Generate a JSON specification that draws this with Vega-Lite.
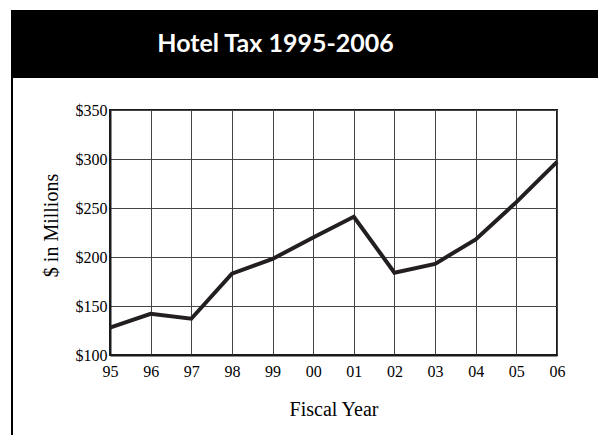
{
  "$schema": "https://vega.github.io/schema/vega-lite/v6.json",
  "padding": {"left": 11, "top": 10, "right": 0, "bottom": 0},
  "background": "white",
  "datasets": {
    "heading": [{"title": "Hotel Tax 1995-2006"}],
    "tax": [
      {"year": "95", "value": 128},
      {"year": "96", "value": 142},
      {"year": "97", "value": 137},
      {"year": "98", "value": 183},
      {"year": "99", "value": 198},
      {"year": "00", "value": 220},
      {"year": "01", "value": 241},
      {"year": "02", "value": 184},
      {"year": "03", "value": 193},
      {"year": "04", "value": 218},
      {"year": "05", "value": 256},
      {"year": "06", "value": 297}
    ]
  },
  "spacing": 0,
  "hconcat": [
    {
      "data": {"name": "heading"},
      "width": 2,
      "height": 425,
      "view": {"fill": "black", "stroke": null},
      "mark": {"type": "rect", "color": "black"},
      "encoding": {}
    },
    {
      "spacing": 23,
      "vconcat": [
        {
          "data": {"name": "heading"},
          "width": 585,
          "height": 68,
          "view": {"fill": "black", "stroke": null},
          "mark": {"type": "text", "color": "white", "font": "Lato", "fontWeight": "bold", "fontSize": 25, "dx": -30, "align": "center", "baseline": "middle"},
          "encoding": {"text": {"field": "title", "type": "nominal"}}
        },
        {
          "spacing": 0,
          "hconcat": [
            {
              "data": {"name": "heading"},
              "width": 27,
              "height": 1,
              "view": {"fill": "white", "stroke": null},
              "mark": {"type": "rect", "opacity": 0},
              "encoding": {}
            },
            {
              "data": {"name": "tax"},
              "width": 447,
              "height": 245,
              "view": {"stroke": "#1a1a1a", "strokeWidth": 2},
              "mark": {"type": "line", "color": "#231f20", "strokeWidth": 4, "strokeJoin": "miter"},
              "encoding": {
                "x": {
                  "field": "year", "type": "ordinal", "sort": null,
                  "scale": {"type": "point", "padding": 0},
                  "axis": {
                    "title": "Fiscal Year", "labelAngle": 0, "ticks": false, "grid": true,
                    "gridColor": "#444444", "gridWidth": 1, "domainColor": "#1a1a1a", "domainWidth": 2,
                    "labelFont": "Liberation Serif", "labelFontSize": 16, "labelColor": "black", "labelPadding": 8,
                    "titleFont": "Liberation Serif", "titleFontSize": 20, "titleFontWeight": "normal", "titleColor": "black", "titlePadding": 20
                  }
                },
                "y": {
                  "field": "value", "type": "quantitative",
                  "scale": {"domain": [100, 350], "nice": false, "zero": false},
                  "axis": {
                    "title": "$ in Millions", "values": [100, 150, 200, 250, 300, 350], "labelExpr": "'$' + datum.value",
                    "ticks": false, "grid": true, "gridColor": "#444444", "gridWidth": 1, "domainColor": "#1a1a1a", "domainWidth": 2,
                    "labelFont": "Liberation Serif", "labelFontSize": 16, "labelColor": "black", "labelPadding": 3,
                    "titleFont": "Liberation Serif", "titleFontSize": 20, "titleFontWeight": "normal", "titleColor": "black", "titlePadding": 14, "titleY": 115
                  }
                }
              }
            }
          ]
        }
      ]
    }
  ]
}
